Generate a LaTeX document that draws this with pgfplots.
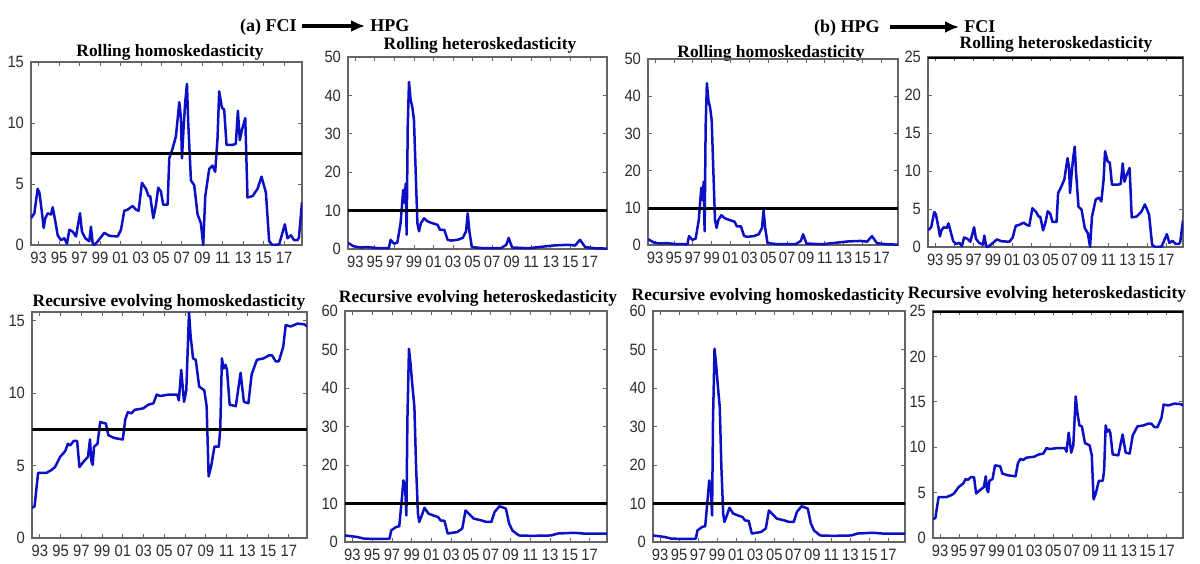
\documentclass[border=0pt]{standalone}
\usepackage{fontspec}
\setmainfont{Liberation Serif}
\setsansfont{Liberation Sans}
\newfontfamily\ticksf[FakeStretch=0.9]{Liberation Sans}
\usepackage{pgfplots}
\usepackage{pgfplotstable}
\pgfplotsset{compat=1.18}
\usetikzlibrary{arrows.meta}
\definecolor{serblue}{RGB}{12,16,196}
\definecolor{axgray}{RGB}{100,100,100}
\definecolor{labgray}{RGB}{45,45,45}

% rolling statistic, smooth swings (panels a1, b2)
\pgfplotstableread{
x y
1992.25 2.2
1992.58 2.6
1992.90 4.6
1993.07 4.3
1993.33 2.6
1993.49 1.4
1993.65 2.2
1993.88 2.6
1994.21 2.5
1994.37 3.1
1994.53 2.4
1994.86 0.8
1995.18 0.4
1995.51 0.55
1995.77 0.1
1996.00 1.25
1996.32 1.1
1996.65 0.7
1997.04 2.6
1997.23 1.1
1997.56 0.55
1997.95 0.3
1998.11 1.5
1998.28 0.15
1998.44 0.0
1998.77 0.3
1999.42 1.0
1999.91 0.75
2000.72 0.7
2001.05 1.25
2001.37 2.8
2001.70 2.9
2002.19 3.2
2002.51 2.9
2002.77 2.8
2003.10 5.1
2003.49 4.6
2003.75 4.0
2003.91 4.0
2004.21 2.2
2004.47 3.3
2004.69 4.7
2004.95 4.4
2005.18 3.3
2005.61 3.3
2005.77 7.1
2006.09 7.9
2006.42 8.9
2006.75 11.7
2006.91 10.4
2007.01 7.1
2007.17 9.6
2007.33 11.7
2007.50 13.2
2007.63 9.9
2007.89 5.3
2008.21 4.9
2008.54 2.5
2008.86 1.8
2009.09 0.0
2009.29 4.0
2009.68 6.25
2010.00 6.5
2010.26 6.0
2010.49 8.75
2010.65 12.6
2010.92 11.25
2011.14 11.1
2011.37 8.2
2011.96 8.2
2012.28 8.3
2012.48 11.0
2012.67 8.6
2012.87 9.4
2013.20 10.4
2013.42 3.9
2013.91 4.0
2014.40 4.6
2014.79 5.6
2015.22 4.3
2015.54 0.3
2015.87 0.0
2016.52 0.05
2017.07 1.7
2017.33 0.55
2017.66 0.8
2017.98 0.4
2018.31 0.4
2018.45 0.6
2018.75 3.5
}\rollA

% rolling statistic with 1998 spike (panels a2, b1)
\pgfplotstableread{
x y
1992.25 1.6
1992.83 0.7
1993.50 0.4
1994.20 0.5
1995.23 0.25
1996.26 0.2
1996.43 0.2
1996.60 2.4
1996.95 1.4
1997.30 1.7
1997.63 6.7
1997.90 15.4
1998.05 12.0
1998.15 17.0
1998.25 3.7
1998.36 31.8
1998.49 43.5
1998.66 38.8
1998.83 37.0
1999.00 33.6
1999.18 19.7
1999.35 6.7
1999.52 4.6
1999.70 6.7
2000.03 8.0
2000.38 7.2
2000.90 6.7
2001.41 6.3
2001.68 5.0
2002.10 5.0
2002.44 2.4
2002.78 2.2
2003.47 2.4
2003.99 2.9
2004.33 4.6
2004.50 9.3
2004.67 4.6
2004.92 0.5
2005.87 0.26
2007.93 0.26
2008.45 1.1
2008.69 2.9
2009.04 0.4
2010.69 0.2
2013.42 0.95
2014.80 1.1
2015.48 0.9
2015.99 2.4
2016.51 0.5
2017.54 0.2
2018.75 0.1
}\rollB

% recursive evolving statistic, rising (panels a3, b4)
\pgfplotstableread{
x y
1992.25 2.07
1992.50 2.2
1992.84 4.5
1993.33 4.5
1993.65 4.5
1994.14 4.7
1994.47 4.9
1994.96 5.6
1995.45 6.0
1995.71 6.5
1995.94 6.4
1996.27 6.7
1996.60 6.7
1996.82 4.9
1997.25 5.3
1997.64 5.6
1997.84 6.8
1997.97 5.3
1998.10 5.05
1998.23 6.3
1998.56 6.5
1998.82 8.0
1999.37 7.9
1999.60 7.1
2000.19 6.9
2001.00 6.8
2001.24 8.2
2001.50 8.7
2001.82 8.6
2002.15 8.85
2002.97 8.95
2003.46 9.2
2003.95 9.3
2004.27 9.9
2004.60 9.8
2005.42 9.9
2006.24 9.9
2006.40 9.5
2006.63 11.6
2006.90 9.4
2007.12 10.2
2007.38 15.6
2007.54 13.9
2007.77 12.4
2008.03 12.3
2008.36 10.45
2008.85 10.2
2009.08 9.1
2009.27 4.25
2009.50 4.9
2009.83 6.3
2010.25 6.3
2010.39 7.5
2010.55 12.4
2010.71 11.7
2010.90 11.95
2011.04 11.6
2011.30 9.2
2011.89 9.1
2012.35 11.4
2012.54 10.2
2012.67 9.4
2013.10 9.3
2013.42 11.3
2013.92 12.3
2014.57 12.4
2015.06 12.6
2015.39 12.6
2015.72 12.2
2016.04 12.2
2016.46 13.2
2016.70 14.7
2017.18 14.6
2017.84 14.8
2018.50 14.75
2018.75 14.6
}\recC

% recursive evolving statistic with 1998 spike (panels a4, b3)
\pgfplotstableread{
x y
1992.25 1.7
1993.49 1.3
1994.14 0.9
1995.12 0.8
1996.43 0.8
1996.76 0.9
1996.92 3.0
1997.41 3.9
1997.74 4.1
1998.00 11.3
1998.16 16.0
1998.33 14.3
1998.46 6.9
1998.56 31.6
1998.72 50.2
1998.88 46.3
1999.05 41.1
1999.27 35.0
1999.44 19.5
1999.63 7.4
1999.76 5.2
1999.96 6.5
2000.29 8.9
2000.68 7.4
2001.17 6.9
2001.66 6.5
2001.92 5.6
2002.31 5.5
2002.64 2.2
2003.62 2.6
2004.11 3.5
2004.44 8.2
2004.76 7.4
2005.25 6.1
2006.07 5.6
2006.56 5.2
2007.05 5.2
2007.38 7.8
2007.87 9.3
2008.52 8.7
2008.85 4.8
2009.18 3.0
2009.83 1.7
2011.14 1.6
2013.10 1.7
2013.75 2.2
2015.39 2.4
2016.37 2.2
2018.75 2.2
}\recD

\pgfplotsset{
  matstyle/.style={
    scale only axis,
    anchor=south west,
    xmin=1992.25, xmax=2018.75, ymin=0,
    axis line style={axgray, line width=0.6pt},
    tick style={axgray, line width=0.4pt},
    tick align=inside, major tick length=2pt,
    xtick={1993,1995,...,2017},
    xticklabels={93,95,97,99,01,03,05,07,09,11,13,15,17},
    ticklabel style={font=\ticksf\fontsize{8.2}{9}\selectfont, text=labgray},
    /pgf/number format/assume math mode=true,
    clip=true,
  },
  ser/.style={serblue, line width=1.25pt, line join=round},
  thr/.style={black, line width=1.5pt},
}

\begin{document}
\begin{tikzpicture}[x=0.5pt, y=-0.5pt]
\path[use as bounding box] (0,0) rectangle (1200,563);

% lower-left corners of the eight axis boxes (pixel grid)
\coordinate (p1) at (31,245);
\coordinate (p2) at (348,249);
\coordinate (p3) at (648,245);
\coordinate (p4) at (928,247);
\coordinate (p5) at (32,538);
\coordinate (p6) at (345,542);
\coordinate (p7) at (653,542);
\coordinate (p8) at (933,538);

% group headings
\node[anchor=base east, font=\bfseries\fontsize{9}{10}\selectfont, inner sep=0] at (297,31) {(a)\ FCI};
\draw[line width=1.6pt, -{Latex[length=7pt,width=6pt]}] (302,26) -- (365,26);
\node[anchor=base west, font=\bfseries\fontsize{9}{10}\selectfont, inner sep=0] at (370,31) {HPG};
\node[anchor=base east, font=\bfseries\fontsize{9}{10}\selectfont, inner sep=0] at (880,32) {(b)\ HPG};
\draw[line width=1.6pt, -{Latex[length=7pt,width=6pt]}] (890,27) -- (959,27);
\node[anchor=base west, font=\bfseries\fontsize{9}{10}\selectfont, inner sep=0] at (964,32) {FCI};

% panel titles
\tikzset{ttl/.style={anchor=base, font=\bfseries\fontsize{8.7}{10}\selectfont, inner sep=0}}
\node[ttl] at (170,56) {Rolling homoskedasticity};
\node[ttl] at (480,49) {Rolling heteroskedasticity};
\node[ttl] at (771,57) {Rolling homoskedasticity};
\node[ttl] at (1056,48) {Rolling heteroskedasticity};
\node[ttl] at (169,306) {Recursive evolving homoskedasticity};
\node[ttl] at (478,302) {Recursive evolving heteroskedasticity};
\node[ttl] at (768,300) {Recursive evolving homoskedasticity};
\node[ttl] at (1047,298) {Recursive evolving heteroskedasticity};

% (a) rolling homo
\begin{axis}[matstyle, at={(p1)}, width=135.5pt, height=91.5pt,
  ymax=15, ytick={0,5,10,15}]
\addplot[ser] table {\rollA};
\addplot[thr] coordinates {(1990,7.5) (2020,7.5)};
\end{axis}

% (a) rolling hetero
\begin{axis}[matstyle, at={(p2)}, width=129.5pt, height=96pt,
  ymax=50, ytick={0,10,...,50}]
\addplot[ser] table {\rollB};
\addplot[thr] coordinates {(1990,9.9) (2020,9.9)};
\end{axis}

% (b) rolling homo
\begin{axis}[matstyle, at={(p3)}, width=125pt, height=93pt,
  ymax=50, ytick={0,10,...,50}]
\addplot[ser] table {\rollB};
\addplot[thr] coordinates {(1990,9.9) (2020,9.9)};
\end{axis}

% (b) rolling hetero
\begin{axis}[matstyle, at={(p4)}, width=127.5pt, height=95pt,
  ymax=25, ytick={0,5,...,25}]
\addplot[ser] table {\rollA};
\addplot[thr] coordinates {(1990,25) (2020,25)};
\end{axis}

% (a) recursive homo
\begin{axis}[matstyle, at={(p5)}, width=137.5pt, height=113pt,
  ymax=15.6, ytick={0,5,10,15}]
\addplot[ser] table {\recC};
\addplot[thr] coordinates {(1990,7.5) (2020,7.5)};
\end{axis}

% (a) recursive hetero
\begin{axis}[matstyle, at={(p6)}, width=131pt, height=115.5pt,
  ymax=60, ytick={0,10,...,60}]
\addplot[ser] table {\recD};
\addplot[thr] coordinates {(1990,9.9) (2020,9.9)};
\end{axis}

% (b) recursive homo
\begin{axis}[matstyle, at={(p7)}, width=126pt, height=115.5pt,
  ymax=60, ytick={0,10,...,60}]
\addplot[ser] table {\recD};
\addplot[thr] coordinates {(1990,9.9) (2020,9.9)};
\end{axis}

% (b) recursive hetero
\begin{axis}[matstyle, at={(p8)}, width=125pt, height=113.5pt,
  ymax=25, ytick={0,5,...,25}]
\addplot[ser] table {\recC};
\addplot[thr] coordinates {(1990,25) (2020,25)};
\end{axis}
\end{tikzpicture}
\end{document}
